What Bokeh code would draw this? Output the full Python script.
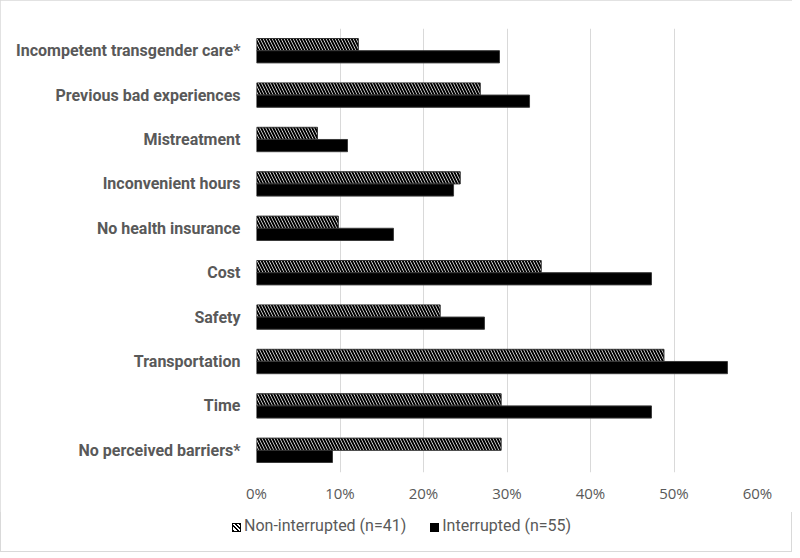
from bokeh.plotting import figure
from bokeh.layouts import column
from bokeh.models import (ColumnDataSource, FactorRange, Range1d, FixedTicker,
                          NumeralTickFormatter, Div)
from bokeh.transform import dodge
from bokeh.embed import file_html
from bokeh.resources import INLINE

categories = ["No perceived barriers*", "Time", "Transportation", "Safety", "Cost",
              "No health insurance", "Inconvenient hours", "Mistreatment",
              "Previous bad experiences", "Incompetent transgender care*"]
non_interrupted = [0.293, 0.293, 0.488, 0.220, 0.341, 0.098, 0.244, 0.073, 0.268, 0.122]
interrupted = [0.091, 0.473, 0.564, 0.273, 0.473, 0.164, 0.236, 0.109, 0.327, 0.291]
x_ticks = [0, 0.1, 0.2, 0.3, 0.4, 0.5, 0.6]
series_names = ["Non-interrupted (n=41)", "Interrupted (n=55)"]

src = ColumnDataSource(dict(cat=categories, non=non_interrupted, intr=interrupted))

TEXT = "#595959"
NON_STYLE = dict(fill_color="white", hatch_pattern="\\", hatch_color="black",
                 hatch_scale=6, hatch_weight=2, line_color="#333333", line_width=1)
INT_STYLE = dict(fill_color="black", line_color="#3a3a3a", line_width=1)

p = figure(width=792, height=512, y_range=FactorRange(factors=categories),
           x_range=Range1d(0, 0.6), output_backend="svg", toolbar_location=None,
           min_border_left=256, min_border_right=35, min_border_top=28,
           min_border_bottom=40)

p.hbar(y=dodge("cat", 0.137, range=p.y_range), right="non", left=0, height=0.275,
       source=src, **NON_STYLE)
p.hbar(y=dodge("cat", -0.137, range=p.y_range), right="intr", left=0, height=0.275,
       source=src, **INT_STYLE)

p.outline_line_color = None
p.ygrid.grid_line_color = None
p.xgrid.grid_line_color = "#d9d9d9"
p.xgrid.grid_line_width = 1

p.xaxis.ticker = FixedTicker(ticks=x_ticks)
p.xaxis.formatter = NumeralTickFormatter(format="0%")
for ax in (p.xaxis, p.yaxis):
    ax.axis_line_color = None
    ax.major_tick_line_color = None
    ax.minor_tick_line_color = None
    ax.major_label_text_color = TEXT
p.xaxis.major_label_text_font = "Open Sans"
p.xaxis.major_label_text_font_size = "15px"
p.xaxis.major_label_standoff = 4
p.yaxis.major_label_text_font = "Roboto"
p.yaxis.major_label_text_font_size = "16px"
p.yaxis.major_label_text_font_style = "bold"
p.yaxis.major_label_standoff = 10

# legend strip (HTML) below the chart
swatch_base = ("display:inline-block;box-sizing:border-box;width:9px;height:9px;"
               "border:1px solid #000;vertical-align:-1px;margin-right:3px;")
swatch_non = swatch_base + ("background:repeating-linear-gradient(45deg,#000 0px,#000 1.4px,"
                            "#fff 1.4px,#fff 3px);")
swatch_int = swatch_base + "background:#000;"
legend_html = (
    '<div style="font-family:Roboto;font-size:16px;line-height:20px;color:%s;'
    'white-space:nowrap;padding-left:232px;padding-top:4px;">'
    '<span style="%s"></span><span>%s</span>'
    '<span style="display:inline-block;width:24px"></span>'
    '<span style="%s"></span><span>%s</span></div>'
    % (TEXT, swatch_non, series_names[0], swatch_int, series_names[1])
)
legend_div = Div(text=legend_html, width=792, height=40, margin=0)

layout = column(p, legend_div, spacing=0)
layout.styles = {"outline": "1px solid #d9d9d9", "outline-offset": "-1px"}

open("out.html", "w").write(file_html(layout, INLINE))
